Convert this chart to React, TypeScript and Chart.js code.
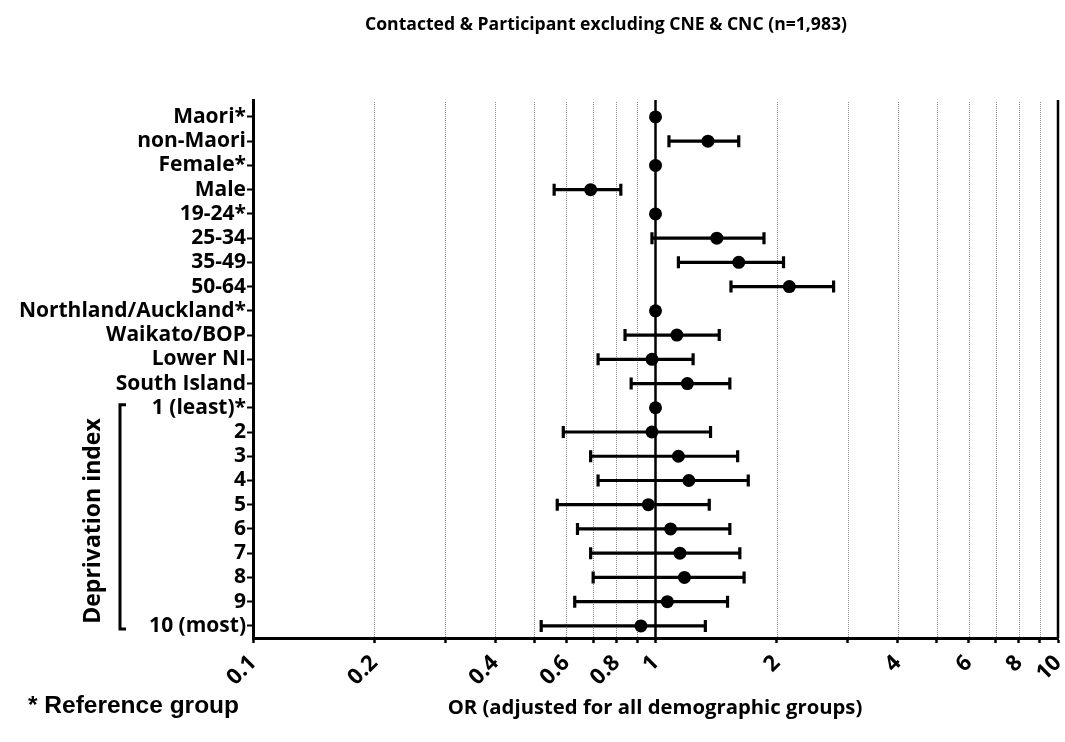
import React, { useEffect, useRef } from "react";
import { Chart, registerables } from "chart.js";

Chart.register(...registerables);

const CATEGORIES = [
  "Maori*", "non-Maori", "Female*", "Male", "19-24*", "25-34", "35-49", "50-64",
  "Northland/Auckland*", "Waikato/BOP", "Lower NI", "South Island",
  "1 (least)*", "2", "3", "4", "5", "6", "7", "8", "9", "10 (most)",
];
const OR_VALUES = [1, 1.35, 1, 0.69, 1, 1.42, 1.61, 2.15, 1, 1.13, 0.98, 1.2, 1, 0.98, 1.14, 1.21, 0.96, 1.09, 1.15, 1.18, 1.07, 0.92];
const CI_LOWER: (number | null)[] = [null, 1.08, null, 0.56, null, 0.98, 1.14, 1.54, null, 0.84, 0.72, 0.87, null, 0.59, 0.69, 0.72, 0.57, 0.64, 0.69, 0.7, 0.63, 0.52];
const CI_UPPER: (number | null)[] = [null, 1.61, null, 0.82, null, 1.86, 2.08, 2.77, null, 1.44, 1.24, 1.53, null, 1.37, 1.6, 1.7, 1.36, 1.53, 1.62, 1.66, 1.51, 1.33];
const X_TICKS = [0.1, 0.2, 0.3, 0.4, 0.5, 0.6, 0.7, 0.8, 0.9, 1, 2, 3, 4, 5, 6, 7, 8, 9, 10];
const X_TICK_LABELS = [0.1, 0.2, 0.4, 0.6, 0.8, 1, 2, 4, 6, 8, 10];
const DEPRIVATION_START = 12;
const DEPRIVATION_END = 21;

const TITLE = "Contacted & Participant excluding CNE & CNC (n=1,983)";
const X_TITLE = "OR (adjusted for all demographic groups)";
const NOTE = "* Reference group";
const GROUP_LABEL = "Deprivation index";

const FONT = "'Open Sans', Lato, sans-serif";

const forestPlugin = {
  id: "forest",
  beforeDatasetsDraw(chart: any) {
    const { ctx, chartArea } = chart;
    const xs = chart.scales.x;
    const ys = chart.scales.y;
    ctx.save();
    // dotted grid lines
    ctx.strokeStyle = "#8a8a8a";
    ctx.lineWidth = 1;
    ctx.setLineDash([1, 1]);
    X_TICKS.forEach((v) => {
      if (v === 0.1 || v === 1 || v === 10) return;
      const px = Math.round(xs.getPixelForValue(v)) + 0.5;
      ctx.beginPath();
      ctx.moveTo(px, chartArea.top + 2);
      ctx.lineTo(px, chartArea.bottom);
      ctx.stroke();
    });
    ctx.setLineDash([]);
    // reference line at 1 and right border at 10
    ctx.strokeStyle = "#000";
    ctx.lineWidth = 2.5;
    [1, 10].forEach((v) => {
      const px = xs.getPixelForValue(v);
      ctx.beginPath();
      ctx.moveTo(px, chartArea.top);
      ctx.lineTo(px, chartArea.bottom);
      ctx.stroke();
    });
    // error bars
    ctx.lineWidth = 3.2;
    CATEGORIES.forEach((_, i) => {
      const lo = CI_LOWER[i];
      const hi = CI_UPPER[i];
      if (lo == null || hi == null) return;
      const y = ys.getPixelForValue(i);
      const x1 = xs.getPixelForValue(lo);
      const x2 = xs.getPixelForValue(hi);
      ctx.beginPath();
      ctx.moveTo(x1, y);
      ctx.lineTo(x2, y);
      ctx.moveTo(x1, y - 6);
      ctx.lineTo(x1, y + 6);
      ctx.moveTo(x2, y - 6);
      ctx.lineTo(x2, y + 6);
      ctx.stroke();
    });
    ctx.restore();
  },
  afterDraw(chart: any) {
    const { ctx } = chart;
    const ys = chart.scales.y;
    ctx.save();
    ctx.fillStyle = "#000";
    ctx.textAlign = "center";
    ctx.textBaseline = "alphabetic";
    ctx.font = `bold 17.6px ${FONT}`;
    ctx.fillText(TITLE, 606, 30);
    ctx.font = `bold 20.3px ${FONT}`;
    ctx.fillText(X_TITLE, 655, 714);
    ctx.textAlign = "left";
    ctx.font = "bold 24.5px 'Liberation Sans', Arial, sans-serif";
    ctx.fillText(NOTE, 28, 713);
    // deprivation bracket
    const yTop = ys.getPixelForValue(DEPRIVATION_START) - 3;
    const yBot = ys.getPixelForValue(DEPRIVATION_END) + 3;
    ctx.strokeStyle = "#000";
    ctx.lineWidth = 3;
    ctx.beginPath();
    ctx.moveTo(126, yTop);
    ctx.lineTo(120, yTop);
    ctx.lineTo(120, yBot);
    ctx.lineTo(126, yBot);
    ctx.stroke();
    ctx.translate(93, 521);
    ctx.rotate(-Math.PI / 2);
    ctx.textAlign = "center";
    ctx.textBaseline = "middle";
    ctx.font = `bold 23px ${FONT}`;
    ctx.fillText(GROUP_LABEL, 0, 0);
    ctx.restore();
  },
};

export default function App() {
  const ref = useRef<HTMLCanvasElement | null>(null);
  useEffect(() => {
    if (!ref.current) return;
    const chart = new Chart(ref.current, {
      type: "scatter",
      data: {
        datasets: [
          {
            data: OR_VALUES.map((v, i) => ({ x: v, y: i })),
            backgroundColor: "#000",
            borderColor: "#000",
            borderWidth: 0,
            pointRadius: 6.5,
            pointHoverRadius: 6.5,
          },
        ],
      },
      options: {
        animation: false,
        responsive: false,
        layout: { padding: { top: 100, right: 7, left: 0, bottom: 0 } },
        plugins: { legend: { display: false }, tooltip: { enabled: false }, title: { display: false } },
        scales: {
          x: {
            type: "logarithmic",
            min: 0.1,
            max: 10,
            afterBuildTicks: (s: any) => {
              s.ticks = X_TICKS.map((v) => ({ value: v }));
            },
            afterFit: (s: any) => {
              s.height = 104;
              s.paddingLeft = 0;
              s.paddingRight = 0;
            },
            grid: {
              drawOnChartArea: false,
              drawTicks: true,
              tickLength: 5,
              tickWidth: 2.5,
              tickColor: "#000",
              color: "#000",
            },
            border: { display: true, color: "#000", width: 3 },
            ticks: {
              autoSkip: false,
              minRotation: 45,
              maxRotation: 45,
              padding: 7,
              color: "#000",
              font: { family: FONT, weight: "bold", size: 22 },
              callback: (v: any) => (X_TICK_LABELS.includes(Number(v)) ? String(v) : ""),
            },
          },
          y: {
            type: "linear",
            min: -0.7,
            max: 21.5,
            reverse: true,
            afterBuildTicks: (s: any) => {
              s.ticks = CATEGORIES.map((_, i) => ({ value: i }));
            },
            afterFit: (s: any) => {
              s.width = 253;
              s.paddingTop = 0;
              s.paddingBottom = 0;
            },
            grid: {
              drawOnChartArea: false,
              drawTicks: true,
              tickLength: 6,
              tickWidth: 2,
              tickColor: "#000",
              color: "#000",
            },
            border: { display: true, color: "#000", width: 3 },
            ticks: {
              autoSkip: false,
              padding: 1,
              color: "#000",
              font: { family: FONT, weight: "bold", size: 21 },
              callback: (v: any) => CATEGORIES[Number(v)] ?? "",
            },
          },
        },
      },
      plugins: [forestPlugin],
    } as any);
    return () => chart.destroy();
  }, []);
  return (
    <div style={{ position: "absolute", left: 0, top: 0, width: 1065, height: 742, background: "#fff" }}>
      <canvas ref={ref} width={1065} height={742} />
    </div>
  );
}
